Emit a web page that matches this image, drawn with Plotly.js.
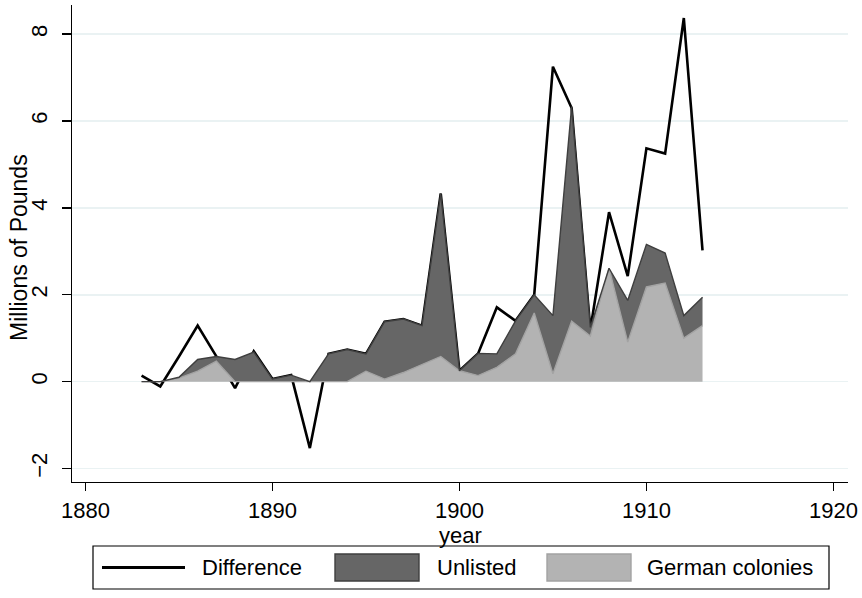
<!DOCTYPE html>
<html><head><meta charset="utf-8">
<script src="https://cdn.plot.ly/plotly-3.0.1.min.js"></script>
<style>html,body{margin:0;padding:0;background:#fff}</style>
</head><body><div id="chart" style="width:862px;height:598px"></div>
<script>
const years = [1883,1884,1885,1886,1887,1888,1889,1890,1891,1892,1893,1894,1895,1896,1897,1898,1899,1900,1901,1902,1903,1904,1905,1906,1907,1908,1909,1910,1911,1912,1913];
const difference = [0.14,-0.11,0.58,1.29,0.58,-0.15,0.70,0.06,0.15,-1.53,0.64,0.74,0.64,1.38,1.44,1.29,4.33,0.25,0.65,1.71,1.40,2.00,7.25,6.30,1.20,3.90,2.43,5.37,5.25,8.37,3.02];
const germanColonies = [0,0,0.08,0.24,0.47,0,0,0,0,0,0,0,0.24,0.06,0.21,0.39,0.58,0.25,0.14,0.33,0.64,1.58,0.18,1.39,1.05,2.61,0.91,2.18,2.27,1.00,1.29];
const unlisted = [0,0,0.02,0.27,0.11,0.51,0.68,0.06,0.15,0,0.64,0.74,0.40,1.32,1.23,0.90,3.75,0,0.51,0.31,0.76,0.42,1.34,4.94,0.20,0,0.96,0.98,0.69,0.52,0.65];
const xTicks = [1880,1890,1900,1910,1920];
const yTicks = [-2,0,2,4,6,8];
const seriesNames = ['Difference','Unlisted','German colonies'];
const xTitle = 'year';
const yTitle = 'Millions of Pounds';

const FONT = 'Liberation Sans, Arial, Helvetica, sans-serif';
const FS = 22;
const L = 72, R = 848, T = 5, B = 482;
const px = x => (x - L) / (R - L);
const py = y => (B - y) / (B - T);

const traces = [
  {x: years, y: difference, type: 'scatter', mode: 'lines', name: seriesNames[0],
   line: {color: '#000000', width: 2.6}},
  {x: years, y: germanColonies, type: 'scatter', mode: 'lines', name: seriesNames[2],
   stackgroup: 'a', fill: 'tozeroy', fillcolor: '#b3b3b3',
   line: {color: '#a3a3a3', width: 1.4}},
  {x: years, y: unlisted, type: 'scatter', mode: 'lines', name: seriesNames[1],
   stackgroup: 'a', fill: 'tonexty', fillcolor: '#666666',
   line: {color: '#3f3f3f', width: 1.4}}
];

// manual Stata-style legend
const lgTop = 546, lgBot = 589, lgMid = 567.5;
const shapes = [
  {type: 'rect', xref: 'paper', yref: 'paper', x0: px(93), x1: px(829), y0: py(lgBot), y1: py(lgTop),
   line: {color: '#000', width: 1.2}, fillcolor: 'rgba(0,0,0,0)'},
  {type: 'line', xref: 'paper', yref: 'paper', x0: px(102), x1: px(185), y0: py(lgMid), y1: py(lgMid),
   line: {color: '#000', width: 3}},
  {type: 'rect', xref: 'paper', yref: 'paper', x0: px(335), x1: px(419), y0: py(lgMid + 13.5), y1: py(lgMid - 13.5),
   line: {color: '#3f3f3f', width: 1.4}, fillcolor: '#666666'},
  {type: 'rect', xref: 'paper', yref: 'paper', x0: px(547), x1: px(631), y0: py(lgMid + 13.5), y1: py(lgMid - 13.5),
   line: {color: '#a3a3a3', width: 1.4}, fillcolor: '#b3b3b3'}
];
const textFont = {family: FONT, size: FS, color: '#000'};
const annotations = [
  {text: seriesNames[0], x: px(200), y: py(lgMid), xanchor: 'left'},
  {text: seriesNames[1], x: px(435), y: py(lgMid), xanchor: 'left'},
  {text: seriesNames[2], x: px(645), y: py(lgMid), xanchor: 'left'},
  {text: xTitle, x: px(460), y: py(535), xanchor: 'center'},
  {text: yTitle, x: px(19), y: py(248), xanchor: 'center', textangle: -90, font: {family: FONT, size: 23, color: '#000'}}
].map(a => Object.assign({font: textFont}, a, {xref: 'paper', yref: 'paper', yanchor: 'middle',
  showarrow: false}));

const layout = {
  width: 862, height: 598,
  margin: {l: L, r: 862 - R, t: T, b: 598 - B, pad: 0},
  paper_bgcolor: '#fff', plot_bgcolor: '#fff',
  showlegend: false,
  font: textFont,
  xaxis: {
    range: [1879.28, 1920.78], tickvals: xTicks, ticktext: xTicks.map(String),
    showgrid: false, zeroline: false, showline: true, linecolor: '#000', linewidth: 1.3,
    ticks: 'outside', ticklen: 8, tickwidth: 1.3, tickcolor: '#000',
    tickfont: textFont, automargin: false
  },
  yaxis: {
    range: [-2.31, 8.67], tickvals: yTicks, ticktext: yTicks.map(v => v < 0 ? '\u2212' + Math.abs(v) : String(v)),
    tickangle: -90, ticklabelstandoff: 6,
    showgrid: true, gridcolor: '#eaf2f3', gridwidth: 1.5, zeroline: false,
    showline: true, linecolor: '#000', linewidth: 1.3,
    ticks: 'outside', ticklen: 9, tickwidth: 1.3, tickcolor: '#000',
    tickfont: textFont, automargin: false
  },
  shapes: shapes,
  annotations: annotations
};

Plotly.newPlot('chart', traces, layout, {displayModeBar: false, staticPlot: true});
</script>
</body></html>
